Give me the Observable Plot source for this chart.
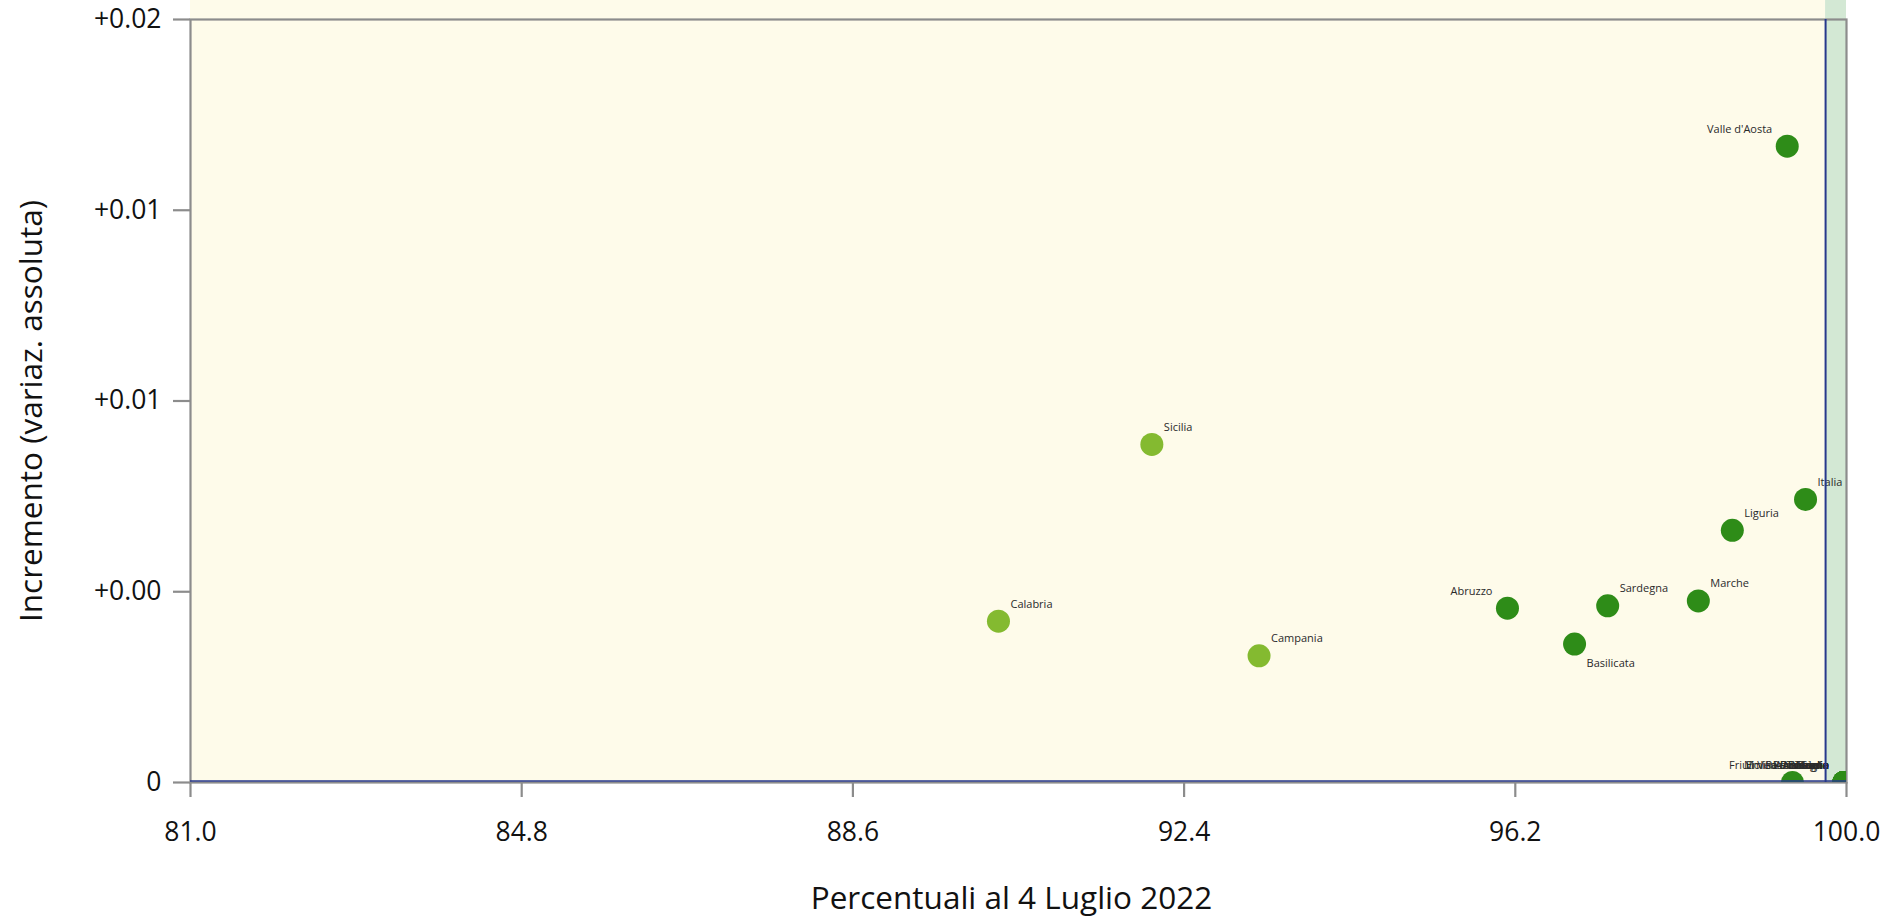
<!DOCTYPE html>
<html><head><meta charset="utf-8">
<script src="https://cdn.jsdelivr.net/npm/d3@7"></script>
<script src="https://cdn.jsdelivr.net/npm/@observablehq/plot@0.6"></script>
<style>html,body{margin:0;padding:0;background:#fff;} #chart svg{display:block;}</style>
</head><body><div id="chart"></div>
<script>
// ---- data ----
const regions = ["Valle d'Aosta","Sicilia","Italia","Liguria","Marche","Sardegna","Abruzzo","Basilicata","Calabria","Campania",
  "Molise","Friuli Venezia Giulia","Emilia-Romagna","Lombardia","Piemonte","Veneto","Toscana","Lazio","Puglia","Umbria","P.A. Bolzano","P.A. Trento"];
const percent = [99.32, 92.03, 99.53, 98.69, 98.30, 97.26, 96.11, 96.88, 90.27, 93.26,
  99.38, 99.97, 99.97, 99.97, 99.97, 99.97, 99.97, 99.97, 99.97, 99.97, 99.97, 99.97];
const increment = [0.01668, 0.00886, 0.00742, 0.00661, 0.00476, 0.00463, 0.00457, 0.00363, 0.00423, 0.00332,
  0, 0, 0, 0, 0, 0, 0, 0, 0, 0, 0, 0];
const xTicks = [81.0, 84.8, 88.6, 92.4, 96.2, 100.0];
const yTicks = [0, 0.005, 0.01, 0.015, 0.02];
const yTickLabels = ["0", "+0.00", "+0.01", "+0.01", "+0.02"];
const xDomain = [81, 100];
const yDomain = [0, 0.02];
const threshold = 99.76;
const colorCut = 95;
const xLabel = "Percentuali al 4 Luglio 2022";
const yLabel = "Incremento (variaz. assoluta)";

// ---- styles ----
const FONT = "Open Sans";
const GRAY = "#8c8c8c";
const BLUE = "#27388c";
const DARK = "#2e8c18", LIGHT = "#84ba30";
const leftLabels = new Set(["Valle d'Aosta", "Abruzzo"]);
const belowLabels = new Set(["Basilicata"]);

const rows = regions.map((name, i) => ({name, x: percent[i], y: increment[i]}));
const side = d => belowLabels.has(d.name) ? "below" : (leftLabels.has(d.name) || d.y === 0) ? "left" : "right";

const W = 1885, H = 916, MT = 19, MB = 134, ML = 190, MR = 39;

const chart = Plot.plot({
  width: W, height: H,
  marginTop: MT, marginBottom: MB, marginLeft: ML, marginRight: MR,
  style: {fontFamily: FONT, background: "#fff", overflow: "visible"},
  x: {domain: xDomain},
  y: {domain: yDomain},
  marks: [
    Plot.rect([{x1: xDomain[0], x2: threshold}], {x1: "x1", x2: "x2", fill: "#fefbea", insetTop: -MT}),
    Plot.rect([{x1: threshold, x2: xDomain[1]}], {x1: "x1", x2: "x2", fill: "#d3e8d4", insetTop: -MT}),
    Plot.frame({stroke: GRAY, strokeWidth: 2.2}),
    Plot.axisX({ticks: xTicks, tickFormat: d => d.toFixed(1), tickSize: 15, tickPadding: 25, fontSize: 26.5,
      stroke: GRAY, strokeWidth: 2.2, fill: "#111", label: null}),
    Plot.axisY({ticks: yTicks, tickFormat: d => yTickLabels[yTicks.indexOf(d)], tickSize: 17, tickPadding: 12, fontSize: 26.5,
      stroke: GRAY, strokeWidth: 2.2, fill: "#111", label: null}),
    Plot.dot(rows, {x: "x", y: "y", r: 11.5, fill: d => d.x < colorCut ? LIGHT : DARK, stroke: null, clip: true}),
    Plot.text(rows.filter(d => side(d) === "right"), {x: "x", y: "y", text: "name", textAnchor: "start", dx: 12, dy: -17,
      fontSize: 11, fill: "#2a2a2a"}),
    Plot.text(rows.filter(d => side(d) === "left"), {x: "x", y: "y", text: "name", textAnchor: "end", dx: -15, dy: -17,
      fontSize: 11, fill: "#2a2a2a"}),
    Plot.text(rows.filter(d => side(d) === "below"), {x: "x", y: "y", text: "name", textAnchor: "start", dx: 12, dy: 19,
      fontSize: 11, fill: "#2a2a2a"}),
    Plot.ruleX([threshold], {stroke: BLUE, strokeWidth: 2}),
    Plot.ruleY([0], {stroke: BLUE, strokeWidth: 1.5, dy: -1.5}),
    Plot.text([xLabel], {frameAnchor: "bottom", textAnchor: "middle", dx: -7, dy: 116, fontSize: 31.5, fill: "#111", lineAnchor: "middle"}),
    Plot.text([yLabel], {frameAnchor: "left", textAnchor: "middle", dx: -159, dy: 10, rotate: -90, fontSize: 31.5, fill: "#111", lineAnchor: "middle"})
  ]
});
document.getElementById("chart").appendChild(chart);
</script>
</body></html>
